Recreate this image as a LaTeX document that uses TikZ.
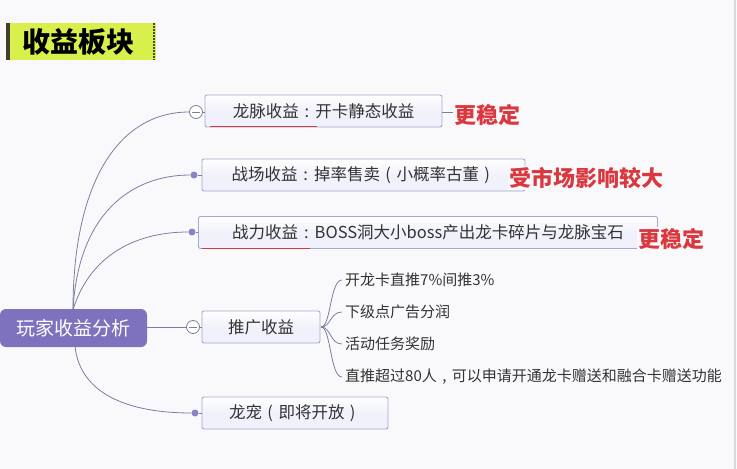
\documentclass[tikz,border=0pt]{standalone}
\usepackage{fontspec}
\newfontfamily\cjk{Noto Sans CJK SC}
\newcommand{\fwcolon}{\makebox[1em][c]{:}}
\newcommand{\fwlp}{\makebox[1em][c]{(}}
\newcommand{\fwrp}{\makebox[1em][c]{)}}
\newcommand{\fwcomma}{\makebox[1em][c]{,}}
\definecolor{bg}{HTML}{F9F9FC}
\definecolor{rootc}{HTML}{7E71BE}
\definecolor{boxline}{HTML}{A3A9CE}
\definecolor{boxfill}{HTML}{F0F1FA}
\definecolor{linkc}{HTML}{7B7F9E}
\definecolor{dotc}{HTML}{8A82C8}
\definecolor{redc}{HTML}{D9383F}
\definecolor{titlec}{HTML}{D8EF4C}
\definecolor{txt}{HTML}{333333}
\tikzset{
  branch/.style={draw=boxline, line width=0.9pt, top color=white, bottom color=boxfill, middle color=boxfill, rounded corners=2pt,
    minimum height=32pt, inner sep=0pt, font=\cjk\fontsize{16.5}{18}\selectfont, text=txt},
  rootbox/.style={fill=rootc, rounded corners=6pt, minimum width=147pt, minimum height=38pt,
    inner sep=0pt, font=\cjk\fontsize{19}{21}\selectfont, text=white},
  link/.style={draw=linkc, line width=0.8pt},
  dotn/.style={circle, fill=dotc, minimum size=7pt, inner sep=0pt},
  foldn/.style={circle, draw=linkc, line width=0.8pt, fill=white, minimum size=13pt, inner sep=0pt},
  note/.style={font=\cjk\bfseries\fontsize{22}{24}\selectfont, text=redc, fill=bg, inner sep=1pt},
  subitem/.style={font=\cjk\fontsize{15}{17}\selectfont, text=txt, anchor=west, inner sep=0pt},
  redline/.style={draw=redc, line width=1.2pt}
}
\begin{document}
\begin{tikzpicture}[x=1pt,y=-1pt]
\useasboundingbox (0,0) rectangle (737,469);
\fill[bg] (0,0) rectangle (737,469);
\draw[black!15, line width=1.5pt] (735,0) -- (735,469);

% title
\node[fill=titlec, minimum width=150pt, minimum height=37pt, inner sep=0pt] (title) at (81,41.5) {};
\fill[black!70!olive] (6,23) rectangle (9.5,60);
\draw[black!60!olive, line width=2.5pt, dash pattern=on 1.5pt off 1.5pt] (154,23) -- (154,60);
\node[font=\cjk\bfseries\fontsize{28}{30}\selectfont, text=black, inner sep=0pt] (titletext) at (79,42) {收益板块};

% root
\node[rootbox] (root) at (73.5,328) {玩家收益分析};
\coordinate (rtop) at (73,310);
\coordinate (rbot) at (75,346);

% branches
\node[branch, minimum width=237pt] (b1) at (323.5,111) {龙脉收益\fwcolon 开卡静态收益};
\node[branch, minimum width=323pt] (b2) at (363.5,175) {战场收益\fwcolon 掉率售卖\fwlp 小概率古董\fwrp};
\node[branch, minimum width=459pt] (b3) at (428,232.5) {战力收益\fwcolon BOSS洞大小boss产出龙卡碎片与龙脉宝石};
\node[branch, minimum width=118pt] (b4) at (261,327) {推广收益};
\node[branch, minimum width=186pt] (b5) at (295,413) {龙宠\fwlp 即将开放\fwrp};

% red underlines
\draw[redline] (210,126.5) -- (317,126.5);
\draw[redline] (202,248.5) -- (310,248.5);

% markers
\node[foldn] (c1) at (196,112) {};
\node[dotn] (d2) at (194,175) {};
\node[dotn] (d3) at (192,232) {};
\node[foldn] (c4) at (193,327) {};
\node[dotn] (d5) at (195,413) {};
\draw[linkc, line width=0.9pt] ([xshift=3pt]c1.west) -- ([xshift=-3pt]c1.east);
\draw[linkc, line width=0.9pt] ([xshift=3pt]c4.west) -- ([xshift=-3pt]c4.east);

% root connectors
\draw[link] (rtop) .. controls (73,180) and (120,112) .. (c1.west);
\draw[link] (rtop) .. controls (78,215) and (130,175) .. (d2);
\draw[link] (rtop) .. controls (88,260) and (130,232) .. (d3);
\draw[link] (root.east |- c4) -- (c4.west);
\draw[link] (rbot) .. controls (80,395) and (130,413) .. (d5);

% markers to boxes
\draw[link] (c1.east) -- (b1.west |- c1);
\draw[link] (d2) -- (b2.west |- d2);
\draw[link] (d3) -- (b3.west |- d3);
\draw[link] (c4.east) -- (b4.west |- c4);
\draw[link] (d5) -- (b5.west |- d5);

% notes
\node[note] (n1) at (487.5,115) {更稳定};
\node[note] (n2) at (586,178) {受市场影响较大};
\node[note] (n3) at (671,239) {更稳定};
\draw[link] (b1.east |- 0,112) -- (n1.west |- 0,112);

% sub items
\node[subitem] (s1) at (345,280) {开龙卡直推7\%间推3\%};
\node[subitem] (s2) at (345,312) {下级点广告分润};
\node[subitem] (s3) at (345,344) {活动任务奖励};
\node[subitem] (s4) at (345,377) {直推超过80人\fwcomma 可以申请开通龙卡赠送和融合卡赠送功能};
\coordinate (b4e) at (321,327);
\foreach \s in {s1,s2,s3,s4}{
  \draw[link] (b4e) .. controls (331,327) and (330,0 |- \s.west) .. ([xshift=-3pt]\s.west);
}
\end{tikzpicture}
\end{document}
